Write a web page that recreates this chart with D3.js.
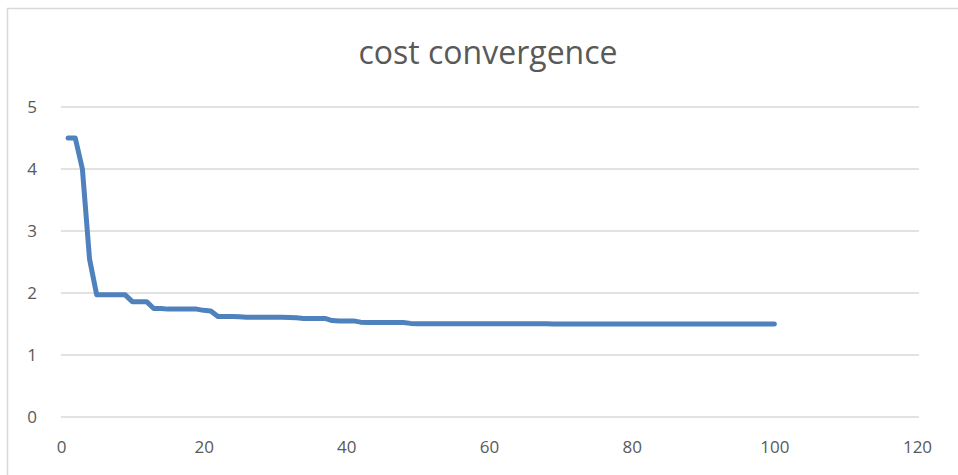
<!DOCTYPE html>
<html>
<head>
<meta charset="utf-8">
<script src="https://cdn.jsdelivr.net/npm/d3@7"></script>
<style>
  html, body { margin: 0; padding: 0; background: #fff; }
  svg { display: block; }
</style>
</head>
<body>
<svg id="chart" width="958" height="475"></svg>
<script>
// Iteration index and the cost recorded at each iteration
const iterations = [
  1, 2, 3, 4, 5, 6, 7, 8, 9, 10,
  11, 12, 13, 14, 15, 16, 17, 18, 19, 20,
  21, 22, 23, 24, 25, 26, 27, 28, 29, 30,
  31, 32, 33, 34, 35, 36, 37, 38, 39, 40,
  41, 42, 43, 44, 45, 46, 47, 48, 49, 50,
  51, 52, 53, 54, 55, 56, 57, 58, 59, 60,
  61, 62, 63, 64, 65, 66, 67, 68, 69, 70,
  71, 72, 73, 74, 75, 76, 77, 78, 79, 80,
  81, 82, 83, 84, 85, 86, 87, 88, 89, 90,
  91, 92, 93, 94, 95, 96, 97, 98, 99, 100
];
const cost = [
  4.50, 4.50, 4.00, 2.55, 1.97, 1.97, 1.97, 1.97, 1.97, 1.86,
  1.86, 1.86, 1.75, 1.75, 1.74, 1.74, 1.74, 1.74, 1.74, 1.72,
  1.71, 1.62, 1.62, 1.62, 1.615, 1.61, 1.61, 1.61, 1.61, 1.61,
  1.61, 1.605, 1.60, 1.59, 1.59, 1.59, 1.59, 1.555, 1.55, 1.55,
  1.55, 1.53, 1.525, 1.525, 1.525, 1.525, 1.525, 1.525, 1.51, 1.505,
  1.505, 1.505, 1.505, 1.505, 1.505, 1.505, 1.505, 1.505, 1.505, 1.505,
  1.505, 1.505, 1.505, 1.505, 1.505, 1.505, 1.505, 1.505, 1.50, 1.50,
  1.50, 1.50, 1.50, 1.50, 1.50, 1.50, 1.50, 1.50, 1.50, 1.50,
  1.50, 1.50, 1.50, 1.50, 1.50, 1.50, 1.50, 1.50, 1.50, 1.50,
  1.50, 1.50, 1.50, 1.50, 1.50, 1.50, 1.50, 1.50, 1.50, 1.50
];
const xTicks = [0, 20, 40, 60, 80, 100, 120];
const yTicks = [0, 1, 2, 3, 4, 5];
const chartTitle = "cost convergence";

const svg = d3.select("#chart");
const W = 958, H = 475;
const font = "'Open Sans', 'Liberation Sans', sans-serif";
const textColor = "#595959";
const gridColor = "#d9d9d9";

// Chart area frame (left and top edges visible)
svg.append("path")
  .attr("d", `M7.5,${H} V8.5 H${W}`)
  .attr("fill", "none")
  .attr("stroke", gridColor)
  .attr("stroke-width", 1.5);

const plot = { left: 61, right: 917, top: 107, bottom: 417 };

const x = d3.scaleLinear().domain([0, 120]).range([plot.left, plot.right]);
const y = d3.scaleLinear().domain([0, 5]).range([plot.bottom, plot.top]);

// Horizontal gridlines
svg.append("g")
  .selectAll("line")
  .data(yTicks)
  .join("line")
  .attr("x1", plot.left)
  .attr("x2", plot.right + 2)
  .attr("y1", d => y(d))
  .attr("y2", d => y(d))
  .attr("stroke", gridColor)
  .attr("stroke-width", 1.5);

// Y axis labels
const yAxis = d3.axisLeft(y).tickValues(yTicks).tickFormat(d3.format("d")).tickSize(0).tickPadding(0);
const gy = svg.append("g").attr("transform", `translate(${37},0)`).call(yAxis);
gy.select(".domain").remove();
gy.selectAll("text")
  .attr("fill", textColor)
  .style("font-family", font)
  .style("font-size", "17px");

// X axis labels
const xAxis = d3.axisBottom(x).tickValues(xTicks).tickFormat(d3.format("d")).tickSize(0).tickPadding(0);
const gx = svg.append("g").attr("transform", `translate(0,${441})`).call(xAxis);
gx.select(".domain").remove();
gx.selectAll("text")
  .attr("fill", textColor)
  .style("font-family", font)
  .style("font-size", "17px");

// Cost line
const series = iterations.map((it, i) => ({ it, c: cost[i] }));
const line = d3.line().x(d => x(d.it)).y(d => y(d.c));
svg.append("path")
  .datum(series)
  .attr("d", line)
  .attr("fill", "none")
  .attr("stroke", "#4f81bd")
  .attr("stroke-width", 5)
  .attr("stroke-linejoin", "round")
  .attr("stroke-linecap", "round");

// Title
svg.append("text")
  .attr("x", 488)
  .attr("y", 64)
  .attr("text-anchor", "middle")
  .attr("fill", textColor)
  .style("font-family", font)
  .style("font-size", "32px")
  .text(chartTitle);
</script>
</body>
</html>
